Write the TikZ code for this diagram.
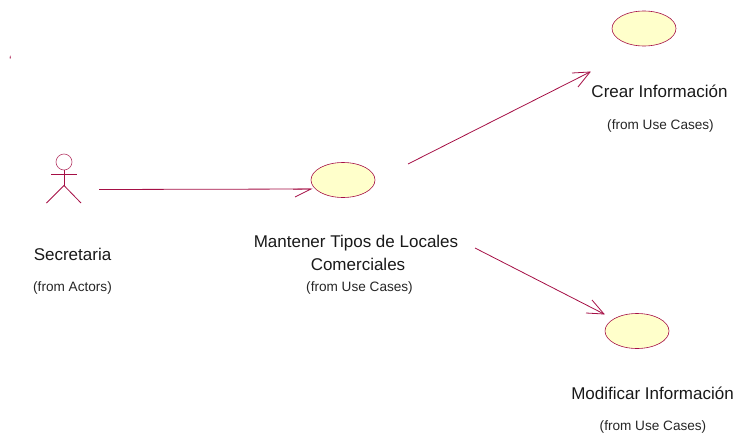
\documentclass[tikz,border=0pt]{standalone}
\usepackage{fontspec}
\setmainfont{Liberation Sans}
\definecolor{umlline}{HTML}{A50F45}
\definecolor{umlfill}{HTML}{FFFFCB}
\tikzset{
  conn/.style={draw=umlline,line width=0.8pt},
  usecase/.style={ellipse,draw=umlline,fill=umlfill,line width=0.6pt,minimum width=64pt,minimum height=35pt,inner sep=0pt},
  bigtext/.style={font=\fontsize{17}{20}\selectfont,text=black!90,align=center,inner sep=0pt},
  smalltext/.style={font=\fontsize{13.6}{16}\selectfont,text=black!85,inner sep=0pt}
}
\usetikzlibrary{shapes.geometric}
\begin{document}
\begin{tikzpicture}[x=1pt,y=-1pt]
\useasboundingbox (0,0) rectangle (735,436);
% actor
\node[circle,draw=umlline!80,line width=0.6pt,minimum size=16pt,inner sep=0pt] (head) at (64,162) {};
\coordinate (hip) at (64,185.5);
\coordinate (armL) at (51,174.3);
\coordinate (armR) at (76.5,174.3);
\coordinate (legL) at (46.5,203);
\coordinate (legR) at (81,203);
\draw[conn] (head.south) -- (hip);
\draw[conn] (armL) -- (armR);
\draw[conn] (legL) -- (hip) -- (legR);
% use cases
\node[usecase] (main) at (343,180) {};
\node[usecase] (crear) at (644,28.5) {};
\node[usecase] (modif) at (637,331) {};
% connector ends
\coordinate (s1) at (99,189.5);
\coordinate (e1) at (311,189);
\coordinate (s1a) at (295,197);
\coordinate (s1b) at (293,189.2);
\coordinate (s2) at (408,164);
\coordinate (e2) at (590,72);
\coordinate (s2a) at (572,73);
\coordinate (s2b) at (578,87);
\coordinate (s3) at (475,248);
\coordinate (e3) at (604,314);
\coordinate (s3a) at (586,313);
\coordinate (s3b) at (592,300);
\draw[conn] (s1) -- (e1);
\draw[conn] (s1a) -- (e1) -- (s1b);
\draw[conn] (s2) -- (e2);
\draw[conn] (s2a) -- (e2) -- (s2b);
\draw[conn] (s3) -- (e3);
\draw[conn] (s3a) -- (e3) -- (s3b);
% labels
\node[bigtext] (t1) at (72.5,254) {Secretaria};
\node[smalltext] (t1b) at (72.5,287.5) {(from Actors)};
\node[bigtext] (t2) at (356,243) {Mantener Tipos de Locales};
\node[bigtext] (t2a) at (358,264) {Comerciales};
\node[smalltext] (t2b) at (359.5,287.5) {(from Use Cases)};
\node[bigtext] (t3) at (659.5,91) {Crear Información};
\node[smalltext] (t3b) at (660.5,125.5) {(from Use Cases)};
\node[bigtext] (t4) at (652.5,393) {Modificar Información};
\node[smalltext] (t4b) at (653,427) {(from Use Cases)};
\node[font=\fontsize{12}{12}\selectfont,text=umlline,inner sep=0pt] (tick) at (10.5,60) {`};
\end{tikzpicture}
\end{document}
